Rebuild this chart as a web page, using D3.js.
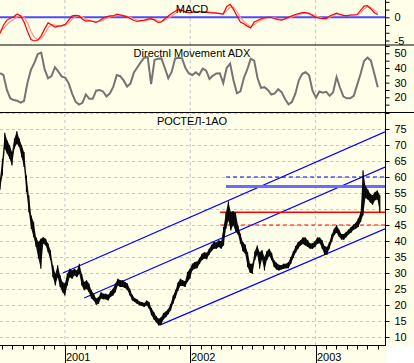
<!DOCTYPE html>
<html>
<head>
<meta charset="utf-8">
<script src="https://cdn.jsdelivr.net/npm/d3@7"></script>
<style>
  body { margin: 0; background: #fffee8; }
  svg { display: block; font-family: "Liberation Sans", Arial, sans-serif; font-size: 11px; }
</style>
</head>
<body>
<div id="chart"></div>
<script>
// weekly price range, first week starts 2000-06-26
const priceStart = "2000-06-26";
const priceHigh = [
  59.5, 65.7, 73.8, 71.4, 69.9, 67.8, 72.0, 74.3, 72.0, 69.9,
  67.8, 60.5, 54.3, 48.0, 45.9, 41.2, 39.7, 40.7, 41.2, 40.7,
  39.2, 37.1, 32.4, 29.8, 32.4, 29.3, 27.2, 26.7, 29.8, 31.3,
  30.8, 31.3, 30.8, 32.9, 29.8, 27.2, 27.7, 26.7, 24.6, 23.5,
  22.0, 22.5, 24.0, 23.5, 23.5, 23.2, 24.3, 25.1, 26.7, 28.2,
  27.7, 27.7, 27.2, 26.7, 25.1, 23.2, 22.2, 21.8, 21.1, 20.9,
  20.6, 21.4, 20.9, 19.1, 17.8, 16.5, 15.7, 16.2, 17.5, 18.0,
  18.8, 20.4, 23.0, 24.6, 27.0, 28.2, 27.7, 27.4, 30.3, 31.3,
  32.9, 33.4, 33.6, 34.7, 36.0, 36.5, 36.3, 37.6, 38.8, 39.7,
  39.5, 40.2, 39.9, 44.4, 49.0, 52.4, 49.0, 49.3, 48.8, 44.9,
  42.3, 39.7, 38.8, 36.5, 32.9, 32.9, 36.8, 38.6, 36.5, 37.1,
  35.0, 36.8, 37.6, 36.3, 34.0, 33.2, 32.6, 32.4, 32.9, 32.9,
  33.4, 35.0, 36.8, 38.4, 39.7, 40.2, 41.1, 41.1, 40.2, 39.2,
  39.3, 39.9, 41.1, 41.1, 40.2, 38.4, 38.1, 39.7, 42.0, 43.8,
  44.9, 43.6, 42.2, 42.2, 42.8, 43.6, 44.4, 45.1, 45.7, 47.0,
  49.0, 62.1, 57.2, 56.1, 54.8, 54.3, 55.3, 55.8, 54.3
];
const priceLow = [
  56.0, 60.5, 68.8, 67.3, 65.7, 63.6, 68.8, 70.4, 69.4, 66.2,
  63.1, 55.3, 49.0, 43.8, 41.2, 38.1, 34.5, 31.3, 39.2, 38.6,
  36.5, 34.0, 28.7, 26.1, 28.7, 25.6, 24.0, 23.0, 26.1, 28.7,
  28.2, 29.3, 28.7, 29.8, 26.1, 24.6, 25.1, 24.0, 22.0, 21.4,
  20.1, 20.4, 22.0, 21.8, 21.8, 21.4, 22.5, 23.0, 24.0, 26.1,
  25.6, 25.6, 25.3, 24.6, 23.0, 21.4, 20.9, 20.4, 19.9, 19.7,
  19.4, 19.9, 18.8, 16.8, 15.5, 14.5, 13.6, 13.8, 15.5, 16.2,
  17.1, 18.3, 20.4, 22.2, 24.4, 25.9, 25.9, 25.6, 27.2, 28.2,
  30.8, 31.3, 31.5, 32.8, 34.0, 34.5, 34.3, 35.7, 36.8, 37.6,
  37.6, 38.1, 37.6, 38.6, 43.8, 46.4, 43.3, 44.9, 43.0, 42.0,
  39.2, 36.8, 36.0, 31.9, 30.1, 29.8, 34.0, 35.7, 31.3, 34.3,
  30.8, 34.0, 35.3, 34.0, 31.9, 31.1, 30.8, 31.1, 31.3, 31.5,
  31.5, 32.9, 34.7, 36.3, 37.6, 38.6, 39.1, 38.6, 38.1, 37.6,
  37.6, 38.1, 39.1, 39.3, 37.6, 35.7, 35.7, 37.6, 39.7, 41.8,
  42.6, 41.4, 40.5, 40.4, 41.2, 42.0, 42.6, 43.4, 43.8, 44.4,
  45.9, 48.0, 53.4, 53.0, 52.0, 51.3, 52.7, 53.0, 49.0
];

// indicators, one value every 10 days from the same start
const indStart = "2000-06-26";
const macdLine = [
  -3.5, -1.7, -0.6, -0.2, 0.1, 0.7, 0.3, -1.0, -3.0, -4.8,
  -5.1, -4.9, -4.0, -2.5, -1.2, -1.6, -2.1, -1.9, -1.8, -1.5,
  -0.6, 0.3, 0.4, 0.3, -0.4, -0.8, -0.7, -0.9, -1.1, -0.7,
  -0.2, 0.1, 0.3, 0.3, 0.7, 0.5, 0.3, 0.1, -0.3, -0.7,
  -0.9, -0.7, -0.6, -0.4, -0.3, -0.6, -1.1, -1.0, -0.3, 0.3,
  0.8, 1.3, 1.7, 1.5, 1.1, 1.0, 1.1, 1.2, 1.2, 1.2,
  1.1, 1.0, 0.95, 0.9, 0.8, 0.7, 2.3, 2.8, 1.7, 0.3,
  -1.0, -1.4, -1.9, -2.3, -1.0, -0.7, -0.3, -0.1, 0, 0,
  -0.3, -0.5, -0.6, -0.3, 0, 0.3, 0.6, 0.8, 1.0, 1.0,
  0.8, 0.4, 0.0, -0.2, -0.3, -0.3, 0.3, 0.6, 0.9, 0.6,
  0.4, 0.3, 0.5, 0.5, 0.6, 1.5, 2.4, 2.5, 1.8, 1.0,
  0.6
];
const macdSignal = [
  -3.0, -2.4, -1.6, -0.9, -0.4, 0.1, 0.4, 0.0, -1.2, -3.0,
  -4.3, -4.9, -4.6, -3.6, -2.3, -1.6, -1.7, -1.9, -1.9, -1.7,
  -1.2, -0.4, 0.1, 0.3, 0.1, -0.4, -0.7, -0.8, -0.9, -0.9,
  -0.6, -0.2, 0.1, 0.2, 0.4, 0.5, 0.4, 0.2, 0.0, -0.3,
  -0.6, -0.7, -0.7, -0.6, -0.4, -0.4, -0.7, -0.9, -0.7, -0.2,
  0.3, 0.8, 1.3, 1.5, 1.3, 1.1, 1.05, 1.1, 1.15, 1.2,
  1.15, 1.1, 1.0, 0.95, 0.85, 0.75, 1.4, 2.2, 2.2, 1.2,
  0.0, -0.9, -1.5, -2.0, -1.6, -1.0, -0.6, -0.3, -0.1, 0.0,
  -0.1, -0.3, -0.5, -0.4, -0.2, 0.1, 0.4, 0.6, 0.8, 0.9,
  0.9, 0.6, 0.3, 0.0, -0.2, -0.3, 0.0, 0.4, 0.7, 0.7,
  0.5, 0.4, 0.4, 0.5, 0.55, 1.0, 1.8, 2.3, 2.1, 1.5,
  0.9
];
const adxLine = [
  36.4, 35.2, 25.0, 19.2, 18.1, 17.6, 16.4, 17.5, 30.0, 38.7,
  43.5, 49.5, 50.5, 39.0, 33.0, 34.5, 40.5, 37.5, 34.1, 33.5,
  29.5, 22.5, 17.0, 15.0, 16.2, 22.0, 19.0, 19.0, 24.5, 25.0,
  24.0, 20.6, 22.7, 27.3, 35.2, 34.4, 31.5, 27.3, 29.5, 37.0,
  40.5, 44.0, 47.0, 47.5, 29.0, 45.5, 46.3, 46.5, 40.0, 33.0,
  37.5, 46.5, 47.0, 46.6, 40.0, 36.2, 35.2, 37.0, 35.2, 39.5,
  38.3, 32.5, 34.8, 36.3, 36.4, 29.7, 40.0, 43.0, 31.5, 22.7,
  24.0, 33.2, 39.0, 46.3, 45.0, 33.0, 26.4, 26.9, 25.0, 21.9,
  22.6, 25.5, 23.5, 18.8, 15.2, 16.8, 22.5, 31.6, 36.0, 37.1,
  35.0, 24.5, 19.8, 24.0, 23.2, 23.7, 21.0, 23.5, 33.8, 26.5,
  20.5, 19.3, 19.3, 21.0, 28.5, 36.0, 44.8, 47.1, 45.0, 36.0,
  26.8
];

// trend channel, [date, price] at both ends
const channelLines = [
  [["2000-12-26", 30.0], ["2003-07-22", 74.1]],
  [["2001-02-26", 22.2], ["2003-07-22", 63.1]],
  [["2001-10-04", 13.7], ["2003-07-22", 43.8]]
];
// horizontal levels
const redLevelStart = "2002-03-29";
const redLevel = 49;
const redDashedLevel = 45;
const blueLevelStart = "2002-04-15";
const blueLevel = 57;
const blueDashedLevel = 60;

const titles = ["MACD", "Directnl Movement ADX", "РОСТЕЛ-1АО"];
const years = ["2001", "2002", "2003"];
const macdTicks = [-5, -10 / 3, -5 / 3, 0, 5 / 3, 10 / 3];
const macdLabels = [0, -5];
const adxTicks = [15, 20, 25, 30, 35, 40, 45, 50, 55];
const adxLabels = [20, 30, 40, 50];
const priceTicks = d3.range(10, 81, 5);
const priceLabels = d3.range(10, 76, 5);

const W = 414, H = 363, R = 385;
const bottom = 345.5;
const parse = d3.timeParse("%Y-%m-%d");

const x = d3.scaleTime()
  .domain([parse("2000-06-26"), parse("2003-07-22")])
  .range([0, R]);
const yMacd = d3.scaleLinear().domain([-5, 0]).range([40.5, 17.3]);
const yAdx = d3.scaleLinear().domain([20, 50]).range([97.3, 53.3]);
const yPrice = d3.scaleLinear().domain([10, 60]).range([337, 177]);

const svg = d3.select("#chart").append("svg")
  .attr("width", W)
  .attr("height", H);

svg.append("rect").attr("width", W).attr("height", H).attr("fill", "#fffee8");
svg.append("rect")
  .attr("x", R + 1).attr("y", bottom + 1)
  .attr("width", W - R - 1).attr("height", H - bottom)
  .attr("fill", "#ffffff");

// clip areas for the three panels
const defs = svg.append("defs");
const panels = [["clipMacd", 0, 45], ["clipAdx", 45, 112.5], ["clipPrice", 112.5, bottom]];
panels.forEach(([id, t, b]) => {
  defs.append("clipPath").attr("id", id)
    .append("rect").attr("x", 0).attr("y", t).attr("width", R).attr("height", b - t);
});

// grid: years (all panels) and price levels
const yearDates = years.map(y => parse(y + "-01-01"));
svg.append("g").selectAll("line")
  .data(yearDates)
  .join("line")
  .attr("x1", d => x(d)).attr("x2", d => x(d))
  .attr("y1", 0).attr("y2", bottom)
  .attr("stroke", "#c4c4c4")
  .attr("stroke-dasharray", "3,3");

svg.append("g").selectAll("line")
  .data(priceTicks)
  .join("line")
  .attr("x1", 0).attr("x2", R)
  .attr("y1", d => Math.round(yPrice(d)) + 0.5)
  .attr("y2", d => Math.round(yPrice(d)) + 0.5)
  .attr("stroke", "#c4c4c4")
  .attr("stroke-dasharray", "3,3")
  .attr("clip-path", "url(#clipPrice)");

// MACD panel
const idxDate = (start, step) => (d, i) => d3.timeDay.offset(parse(start), step * i);
const indDate = idxDate(indStart, 10);

svg.append("line")
  .attr("x1", 0).attr("x2", R)
  .attr("y1", yMacd(0)).attr("y2", yMacd(0))
  .attr("stroke", "#4b4bff")
  .attr("stroke-width", 2);

const macdPath = d3.line().x((d, i) => x(indDate(d, i))).y(d => yMacd(d));
const gMacd = svg.append("g").attr("clip-path", "url(#clipMacd)");
gMacd.append("path")
  .attr("d", macdPath(macdSignal))
  .attr("fill", "none")
  .attr("stroke", "#ff9090")
  .attr("stroke-width", 1.2);
gMacd.append("path")
  .attr("d", macdPath(macdLine))
  .attr("fill", "none")
  .attr("stroke", "#ff0000")
  .attr("stroke-width", 1.2);

// ADX panel
const adxPath = d3.line().x((d, i) => x(indDate(d, i))).y(d => yAdx(d));
svg.append("g").attr("clip-path", "url(#clipAdx)")
  .append("path")
  .attr("d", adxPath(adxLine))
  .attr("fill", "none")
  .attr("stroke", "#747474")
  .attr("stroke-width", 2);

// price panel
const gPrice = svg.append("g").attr("clip-path", "url(#clipPrice)");
const weekDate = idxDate(priceStart, 7);

// trend channel
gPrice.append("g").selectAll("line")
  .data(channelLines)
  .join("line")
  .attr("x1", d => x(parse(d[0][0]))).attr("y1", d => yPrice(d[0][1]))
  .attr("x2", d => x(parse(d[1][0]))).attr("y2", d => yPrice(d[1][1]))
  .attr("stroke", "#0000ff")
  .attr("stroke-width", 1.2);

// levels
const hLine = (start, v, color, width, dash) => {
  gPrice.append("line")
    .attr("x1", x(parse(start))).attr("x2", R)
    .attr("y1", yPrice(v)).attr("y2", yPrice(v))
    .attr("stroke", color)
    .attr("stroke-width", width)
    .attr("stroke-dasharray", dash);
};
hLine(blueLevelStart, blueLevel, "#6b6bff", 3, null);
hLine(blueLevelStart, blueDashedLevel, "#0000ff", 1.2, "4,3");
hLine(redLevelStart, redLevel, "#ff0000", 1.5, null);
hLine(redLevelStart, redDashedLevel, "#ff0000", 1.2, "4,3");

// price bars
const weeks = priceHigh.map((h, i) => ({date: weekDate(h, i), hi: h, lo: priceLow[i]}));
gPrice.append("path")
  .datum(weeks)
  .attr("d", d3.area().x(d => x(d.date)).y0(d => yPrice(d.lo)).y1(d => yPrice(d.hi)))
  .attr("fill", "#111");
gPrice.append("g").selectAll("line")
  .data(weeks)
  .join("line")
  .attr("x1", d => x(d.date)).attr("x2", d => x(d.date))
  .attr("y1", d => yPrice(d.hi)).attr("y2", d => yPrice(d.lo))
  .attr("stroke", "#000")
  .attr("stroke-width", 1.1);

// panel separators and right axis line
svg.append("g").selectAll("line")
  .data([45, 112.5])
  .join("line")
  .attr("x1", 0).attr("x2", W)
  .attr("y1", d => d).attr("y2", d => d)
  .attr("stroke", "#000");
svg.append("line")
  .attr("x1", R + 0.5).attr("x2", R + 0.5)
  .attr("y1", 0).attr("y2", bottom)
  .attr("stroke", "#000");

// right axes
const rightAxis = (scale, ticks, labels) => {
  const g = svg.append("g")
    .attr("transform", `translate(${R + 0.5},0)`)
    .call(d3.axisRight(scale)
      .tickValues(ticks)
      .tickSize(4)
      .tickSizeOuter(0)
      .tickFormat(d => labels.includes(d) ? d : ""));
  g.select(".domain").remove();
  g.selectAll("text")
    .attr("x", 9)
    .attr("fill", "#000")
    .style("font-size", "11px")
    .style("font-family", '"Liberation Sans", Arial, sans-serif');
};
rightAxis(yMacd, macdTicks, macdLabels);
rightAxis(yAdx, adxTicks, adxLabels);
rightAxis(yPrice, priceTicks, priceLabels);

// bottom time axis
svg.append("line")
  .attr("x1", 0).attr("x2", R + 1)
  .attr("y1", bottom).attr("y2", bottom)
  .attr("stroke", "#000");
svg.append("g").selectAll("line")
  .data(d3.timeMonth.range(x.domain()[0], x.domain()[1]))
  .join("line")
  .attr("x1", d => Math.round(x(d)) + 0.5).attr("x2", d => Math.round(x(d)) + 0.5)
  .attr("y1", bottom).attr("y2", d => d.getMonth() === 0 ? H : bottom + 4)
  .attr("stroke", "#000");
svg.append("g").selectAll("text")
  .data(yearDates)
  .join("text")
  .attr("x", d => Math.round(x(d)) + 1)
  .attr("y", 361)
  .text((d, i) => years[i]);

// panel titles
svg.append("g").selectAll("text")
  .data(titles)
  .join("text")
  .attr("x", 192)
  .attr("y", (d, i) => [13, 57, 125][i])
  .attr("text-anchor", "middle")
  .text(d => d);
</script>
</body>
</html>
